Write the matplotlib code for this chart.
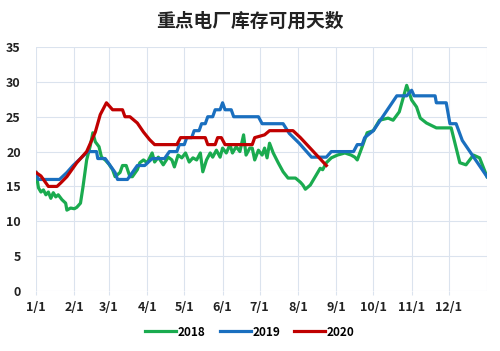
import matplotlib
matplotlib.use("Agg")
import matplotlib.pyplot as plt
from matplotlib.lines import Line2D

plt.rcParams['font.family'] = ['Noto Sans CJK SC', 'DejaVu Sans']

# Day-of-year for month starts
month_days = [0, 31, 59, 90, 120, 151, 181, 212, 243, 273, 304, 334, 365]
month_labels = ["1/1", "2/1", "3/1", "4/1", "5/1", "6/1", "7/1", "8/1", "9/1", "10/1", "11/1", "12/1"]

y_ticks = [0, 5, 10, 15, 20, 25, 30, 35]

days_2018 = [0, 2, 4, 6, 8, 10, 12, 14, 16, 18, 21, 24, 25, 28, 31, 33, 36, 38, 41, 44,
             46, 48, 51, 53, 56, 59, 62, 64, 68, 70, 73, 76, 78, 82, 84, 87, 90, 94, 96,
             99, 103, 107, 110, 112, 115, 118, 121, 124, 127, 130, 133, 135, 138, 141,
             143, 146, 149, 151, 154, 157, 159, 162, 165, 168, 170, 173, 175, 177, 180,
             183, 185, 187, 189, 192, 196, 200, 204, 210, 214, 216, 218, 222, 226, 230,
             232, 235, 239, 244, 250, 255, 258, 260, 264, 268, 273, 278, 285, 289, 294,
             300, 304, 308, 311, 316, 324, 336, 343, 348, 354, 359, 365]
vals_2018 = [17, 14.8, 14.2, 14.5, 13.8, 14.2, 13.3, 14.1, 13.5, 13.8, 13.1, 12.6, 11.6,
             11.9, 11.8, 12, 12.6, 14.9, 18.8, 20.9, 22.7, 21.4, 20.7, 19.2, 18.8, 18.2,
             17.4, 16.4, 17, 18, 18, 16.4, 16.4, 17.4, 18.4, 18.8, 18.4, 19.8, 18.5, 19.2,
             18.1, 19.2, 18.8, 17.8, 19.5, 19.1, 19.8, 18.5, 19.1, 18.8, 19.8, 17.1, 18.8,
             19.8, 19.2, 20.2, 19.2, 20.5, 19.8, 21, 19.8, 20.7, 20, 22.4, 19.5, 20.5,
             20.5, 18.8, 20.2, 19.5, 20.5, 19.1, 21.2, 19.8, 18.4, 17.1, 16.2, 16.2, 15.6,
             15.2, 14.6, 15.2, 16.4, 17.6, 17.4, 18.4, 19.1, 19.5, 19.8, 19.5, 19.2, 18.8,
             20.7, 22.7, 23, 24.5, 24.8, 24.5, 25.7, 29.5, 27.4, 26.4, 24.8, 24.1, 23.4,
             23.4, 18.4, 18.1, 19.5, 19.1, 16.4]

days_2019 = [0, 2, 19, 25, 30, 36, 42, 49, 50, 56, 60, 64, 66, 74, 78, 82, 88, 94, 104,
             108, 114, 116, 120, 122, 126, 128, 132, 134, 137, 139, 143, 145, 149, 151,
             153, 158, 160, 180, 183, 200, 205, 213, 223, 235, 239, 257, 260, 264, 266,
             273, 292, 300, 304, 306, 323, 324, 332, 335, 340, 345, 365]
vals_2019 = [17, 16, 16, 17, 18, 19, 20, 20, 19, 19, 18, 17, 16, 16, 17, 18, 18, 19, 19,
             20, 20, 21, 21, 22, 22, 23, 23, 24, 24, 25, 25, 26, 26, 27, 26, 26, 25, 25,
             24, 24, 22.6, 21.2, 19.2, 19.2, 20, 20, 21, 21, 22, 23, 28, 28, 28.8, 28, 28,
             27, 27, 24, 24, 21.6, 16.4]

days_2020 = [0, 4, 8, 10, 17, 20, 25, 33, 41, 48, 52, 57, 60, 62, 70, 72, 76, 82, 87, 92,
             96, 114, 117, 137, 139, 145, 147, 150, 153, 175, 177, 185, 189, 208, 214, 235]
vals_2020 = [17, 16.5, 15.5, 15, 15, 15.5, 16.4, 18.4, 20, 22.8, 25.3, 27, 26.4, 26, 26,
             25, 25, 24.1, 22.8, 21.7, 21, 21, 22, 22, 21, 21, 22, 22, 21, 21, 22, 22.4,
             23, 23, 22, 18]

c2018 = "#1aab4f"
c2019 = "#1a6fbf"
c2020 = "#c00000"

fig = plt.figure(figsize=(5.0, 3.51), dpi=100)
ax = fig.add_axes([0.072, 0.171, 0.902, 0.695])

grid_c = "#dbe3ee"
for d in month_days:
    ax.axvline(d, color=grid_c, lw=0.8, zorder=0)
for y in y_ticks:
    ax.axhline(y, color=grid_c, lw=0.8, zorder=0)

lw = 2.3
ax.plot(days_2018, vals_2018, color=c2018, lw=lw, solid_joinstyle='round', zorder=2)
ax.plot(days_2019, vals_2019, color=c2019, lw=lw, solid_joinstyle='round', zorder=3)
ax.plot(days_2020, vals_2020, color=c2020, lw=lw, solid_joinstyle='round', zorder=4)

ax.set_xlim(0, 365)
ax.set_ylim(0, 35)
ax.set_xticks(month_days[:-1])
ax.set_xticklabels(month_labels)
ax.set_yticks(y_ticks)
for s in ax.spines.values():
    s.set_visible(False)
ax.tick_params(axis='y', length=0, pad=11, labelsize=9)
ax.tick_params(axis='x', length=3, color=grid_c, pad=4, labelsize=9)
for lab in ax.get_xticklabels() + ax.get_yticklabels():
    lab.set_fontweight('bold')
    lab.set_color('#222222')

fig.text(0.5, 0.939, "重点电厂库存可用天数", ha='center', va='center',
         fontsize=13.5, fontweight='bold', color='#222222')

handles = [Line2D([], [], color=c2018, lw=2.3),
           Line2D([], [], color=c2019, lw=2.3),
           Line2D([], [], color=c2020, lw=2.3)]
leg = fig.legend(handles, ["2018", "2019", "2020"], loc='center', bbox_to_anchor=(0.5, 0.054),
                 ncol=3, frameon=False, handlelength=2.6, handletextpad=0.15,
                 columnspacing=1.2, prop={'weight': 'bold', 'size': 8.5})

fig.savefig("out.png", dpi=100)
